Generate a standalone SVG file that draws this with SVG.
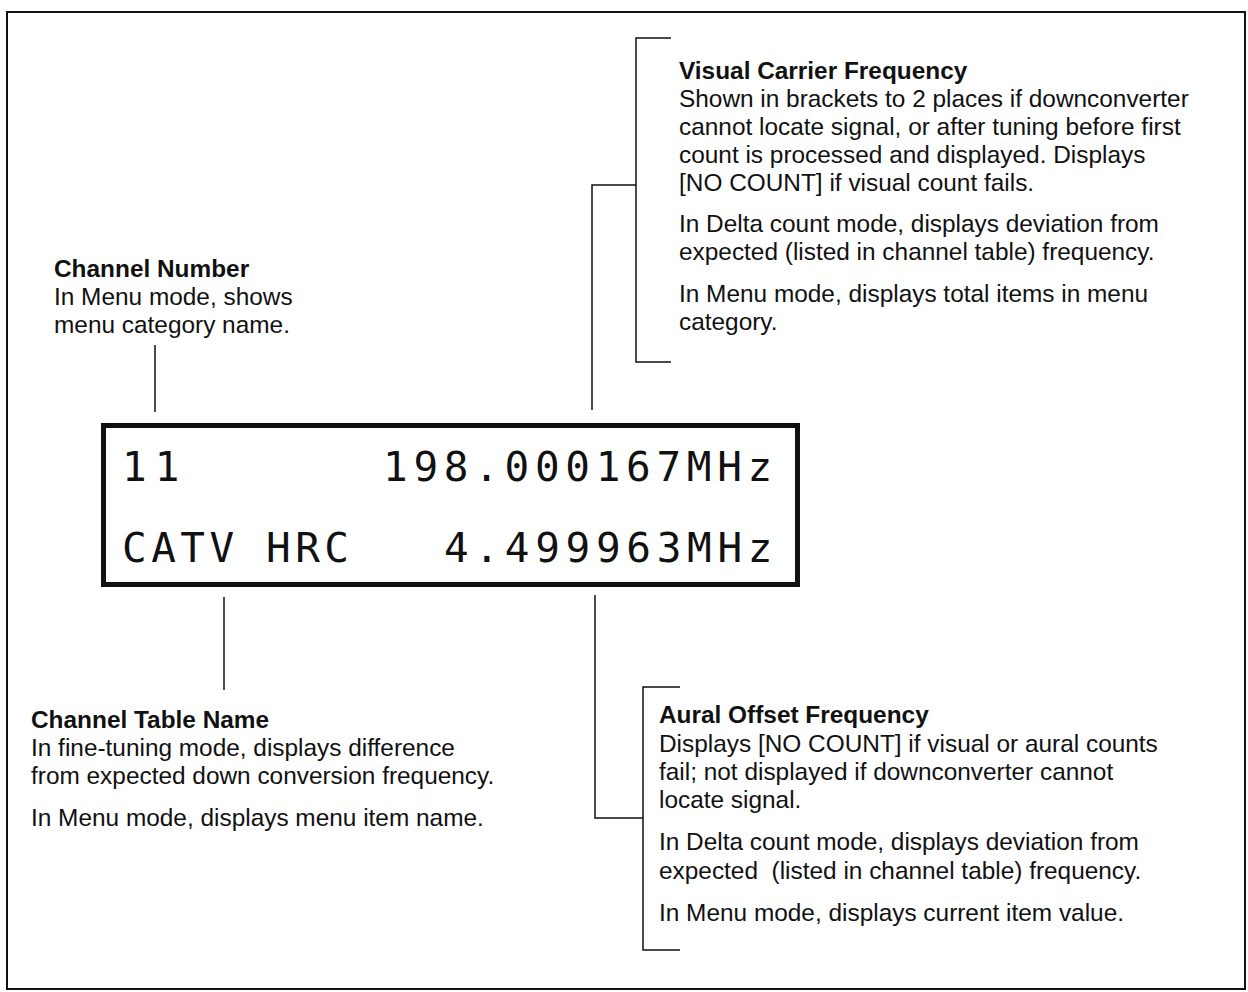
<svg xmlns="http://www.w3.org/2000/svg" width="1248" height="992" viewBox="0 0 1248 992">
<style>
.t{font-family:"Liberation Sans",Arial,sans-serif;font-size:24.4px;fill:#111}
.b{font-weight:bold}
.lcd{font-family:"DejaVu Sans Mono",monospace;font-size:41px;fill:#111;letter-spacing:5.7px}
.ln{fill:none;stroke:#111;stroke-width:1.5}
</style>
<rect x="7" y="12" width="1238" height="977" fill="#fff" stroke="#111" stroke-width="2"/>
<g id="lcd">
<rect x="103.5" y="425.5" width="694" height="159" fill="#fff" stroke="#111" stroke-width="5"/>
<text class="lcd" x="122" y="481" style="letter-spacing:8px">11</text>
<text class="lcd" x="383" y="481">198.000167MHz</text>
<text class="lcd" x="122" y="562" style="letter-spacing:4.5px">CATV</text>
<text class="lcd" x="266" y="562" style="letter-spacing:4.5px">HRC</text>
<text class="lcd" x="444" y="562">4.499963MHz</text>
</g>
<g id="connectors">
<path class="ln" d="M155 345V412"/>
<path class="ln" d="M224 597V690"/>
<path class="ln" d="M592 410V185H636"/>
<path class="ln" d="M671 38H636V362H671"/>
<path class="ln" d="M595 595V818H643"/>
<path class="ln" d="M680 687H643V950H680"/>
</g>
<g id="channel-number">
<text class="t b" x="54" y="277">Channel Number</text>
<text class="t" x="54" y="305">In Menu mode, shows</text>
<text class="t" x="54" y="333">menu category name.</text>
</g>
<g id="visual-carrier">
<text class="t b" x="679" y="79">Visual Carrier Frequency</text>
<text class="t" x="679" y="107">Shown in brackets to 2 places if downconverter</text>
<text class="t" x="679" y="135">cannot locate signal, or after tuning before first</text>
<text class="t" x="679" y="163">count is processed and displayed. Displays</text>
<text class="t" x="679" y="191">[NO COUNT] if visual count fails.</text>
<text class="t" x="679" y="232">In Delta count mode, displays deviation from</text>
<text class="t" x="679" y="260">expected (listed in channel table) frequency.</text>
<text class="t" x="679" y="302">In Menu mode, displays total items in menu</text>
<text class="t" x="679" y="330">category.</text>
</g>
<g id="channel-table">
<text class="t b" x="31" y="728">Channel Table Name</text>
<text class="t" x="31" y="756">In fine-tuning mode, displays difference</text>
<text class="t" x="31" y="784">from expected down conversion frequency.</text>
<text class="t" x="31" y="826">In Menu mode, displays menu item name.</text>
</g>
<g id="aural-offset">
<text class="t b" x="659" y="723">Aural Offset Frequency</text>
<text class="t" x="659" y="752">Displays [NO COUNT] if visual or aural counts</text>
<text class="t" x="659" y="780">fail; not displayed if downconverter cannot</text>
<text class="t" x="659" y="808">locate signal.</text>
<text class="t" x="659" y="850">In Delta count mode, displays deviation from</text>
<text class="t" x="659" y="879" xml:space="preserve">expected  (listed in channel table) frequency.</text>
<text class="t" x="659" y="921">In Menu mode, displays current item value.</text>
</g>
</svg>
